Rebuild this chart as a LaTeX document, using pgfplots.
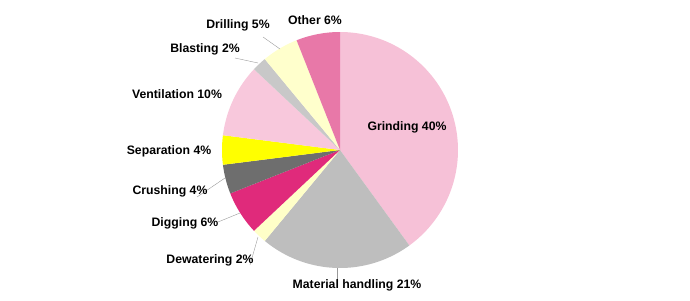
\documentclass[border=0pt]{standalone}
\usepackage{pgfplots}
\pgfplotsset{compat=1.18}
\usepackage{fontspec}
\setmainfont{Liberation Sans}
\definecolor{cGrind}{HTML}{F6C1D7}
\definecolor{cMat}{HTML}{BEBEBE}
\definecolor{cDew}{HTML}{FFFFC8}
\definecolor{cDig}{HTML}{E02A7B}
\definecolor{cCru}{HTML}{6E6E6E}
\definecolor{cSep}{HTML}{FFFF00}
\definecolor{cVen}{HTML}{F8C8DC}
\definecolor{cBla}{HTML}{C8C8C8}
\definecolor{cDri}{HTML}{FFFFCC}
\definecolor{cOth}{HTML}{E878A8}
\tikzset{lab/.style={font=\fontsize{12.3}{14}\selectfont\bfseries, inner sep=0pt}}
% #1 cumulative percent before slice, #2 slice percent, #3 colour
\newcommand{\slice}[3]{%
  \pgfmathsetmacro\sa{90-3.6*(#1+#2)}%
  \pgfmathsetmacro\sb{90-3.6*(#1)}%
  \addplot[fill=#3, draw=none, domain=\sa:\sb, samples=80, variable=\t]
    ({340+118*cos(t)},{150+118*sin(t)}) -- (axis cs:340,150) -- cycle;}
\begin{document}
\begin{tikzpicture}
\begin{axis}[
  width=690bp, height=300bp, scale only axis,
  xmin=0, xmax=690, ymin=0, ymax=300,
  hide axis, clip=false,
]
\path (axis cs:0,0) rectangle (axis cs:690,300);
\slice{0}{40}{cGrind}
\slice{40}{21}{cMat}
\slice{61}{2}{cDew}
\slice{63}{6}{cDig}
\slice{69}{4}{cCru}
\slice{73}{4}{cSep}
\slice{77}{10}{cVen}
\slice{87}{2}{cBla}
\slice{89}{5}{cDri}
\slice{94}{6}{cOth}
\draw[gray!80, thin] (axis cs:263,263) -- (axis cs:280,251);
\draw[gray!80, thin] (axis cs:235,242) -- (axis cs:258,237);
\draw[gray!80, thin] (axis cs:197,103) -- (axis cs:225,122);
\draw[gray!80, thin] (axis cs:218,78) -- (axis cs:240,87);
\draw[gray!80, thin] (axis cs:250,35) -- (axis cs:258,63);
\draw[gray!80, thin] (axis cs:337,32) -- (axis cs:337,20);
\node[lab] at (axis cs:407,173) {Grinding 40\%};
\node[lab] at (axis cs:357,15) {Material handling 21\%};
\node[lab] at (axis cs:210,40) {Dewatering 2\%};
\node[lab] at (axis cs:185,77) {Digging 6\%};
\node[lab] at (axis cs:170,109) {Crushing 4\%};
\node[lab] at (axis cs:169,149) {Separation 4\%};
\node[lab] at (axis cs:177,206) {Ventilation 10\%};
\node[lab] at (axis cs:205,251) {Blasting 2\%};
\node[lab] at (axis cs:238,275) {Drilling 5\%};
\node[lab] at (axis cs:315,280) {Other 6\%};
\end{axis}
\end{tikzpicture}
\end{document}
